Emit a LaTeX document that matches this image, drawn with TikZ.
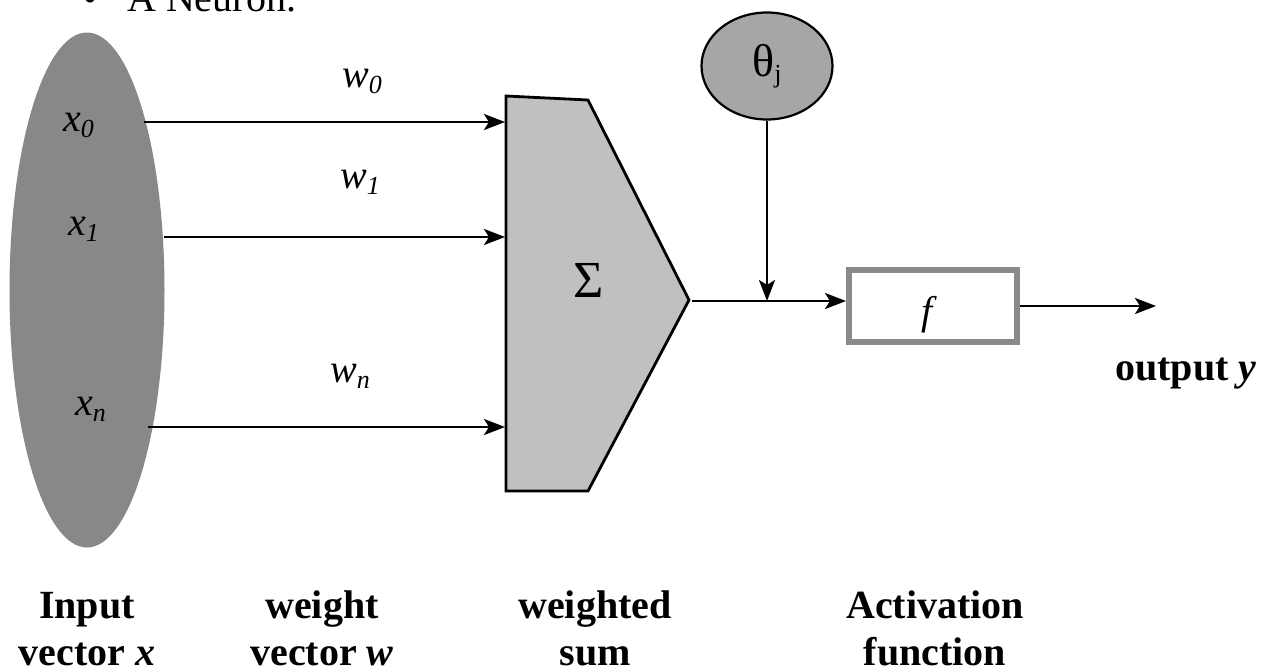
\documentclass[tikz,border=0pt]{standalone}
\usepackage{fontspec}
\setmainfont{Liberation Serif}
\usetikzlibrary{arrows.meta,shapes.geometric}
\definecolor{inGray}{HTML}{888888}
\definecolor{sumGray}{HTML}{C0C0C0}
\definecolor{thGray}{HTML}{A6A6A6}
\definecolor{boxGray}{HTML}{8A8A8A}
\newcommand\lowsub[1]{\raisebox{-6pt}{\fontsize{26}{26}\selectfont #1}}
\newcommand\twoline[2]{\begin{tabular}[t]{@{}c@{}}#1\\#2\end{tabular}}
\begin{document}
\begin{tikzpicture}[x=1pt,y=-1pt,
  big/.style={font=\fontsize{40}{47}\selectfont, inner sep=0pt},
  caption/.style={font=\fontsize{40}{47}\selectfont\bfseries, inner sep=0pt},
  conn/.style={line width=2.8pt, -{Stealth[length=21pt,width=16pt,inset=5pt]}},
]
\useasboundingbox (0,0) rectangle (1276,670);
\clip (0,0) rectangle (1276,670);

% title (cut off at the top)
\node[big, anchor=base west] (title) at (83,11) {\makebox[44pt][l]{\textbullet}A Neuron.};

% input vector
\node[ellipse, fill=inGray, minimum width=155pt, minimum height=515pt, inner sep=0pt] (in) at (87,290) {};
\node[big, anchor=base west] (lx0) at (63,131) {\textit{x}\lowsub{\textit{0}}};
\node[big, anchor=base west] (lx1) at (68,235) {\textit{x}\lowsub{\textit{1}}};
\node[big, anchor=base west] (lxn) at (75,415) {\textit{x}\lowsub{\textit{n}}};

% weights
\node[big, anchor=base west] (lw0) at (342,87) {\textit{w}\lowsub{\textit{0}}};
\node[big, anchor=base west] (lw1) at (340,188) {\textit{w}\lowsub{\textit{1}}};
\node[big, anchor=base west] (lwn) at (330,382) {\textit{w}\lowsub{\textit{n}}};

% weighted sum
\draw[line width=2.8pt, fill=sumGray, line join=miter]
  (506,96) -- (588,100) -- (689,300) -- (588,491) -- (506,491) -- cycle;
\node[font=\fontsize{52}{52}\selectfont, inner sep=0pt] (sig) at (589,280) {Σ};
\coordinate (tip) at (689,301);

\coordinate (s0) at (144,122);
\coordinate (s1) at (164,237);
\coordinate (sn) at (148,427);
\coordinate (e0) at (505,122);
\coordinate (e1) at (505,237);
\coordinate (en) at (505,427);
\draw[conn] (s0) -- (e0);
\draw[conn] (s1) -- (e1);
\draw[conn] (sn) -- (en);

% bias
\node[ellipse, draw, line width=2.2pt, fill=thGray, minimum width=131pt, minimum height=107pt, inner sep=0pt,
      font=\fontsize{46}{46}\selectfont] (th) at (767,66) {θ\lowsub{j}};

% activation
\node[draw=boxGray, line width=6pt, fill=white, minimum width=168pt, minimum height=72pt, inner sep=0pt] (fb) at (933,306) {};
\node[big] (flab) at (929,315) {\textit{f}};
\draw[conn, shorten <=3pt] (tip) -- (tip -| fb.west);
\coordinate (jn) at (767,301);
\draw[conn] (th.south) -- (jn);
\coordinate (out) at (1156,306);
\draw[conn] (fb.east) -- (out);
\node[caption, anchor=base west] (oy) at (1115,380) {output \textit{y}};

% captions
\node[caption, anchor=base] (c1) at (87,618) {\twoline{Input}{vector \textit{x}}};
\node[caption, anchor=base] (c2) at (322,618) {\twoline{weight}{vector \textit{w}}};
\node[caption, anchor=base] (c3) at (595,618) {\twoline{weighted}{sum}};
\node[caption, anchor=base] (c4) at (935,618) {\twoline{Activation}{function}};
\end{tikzpicture}
\end{document}
